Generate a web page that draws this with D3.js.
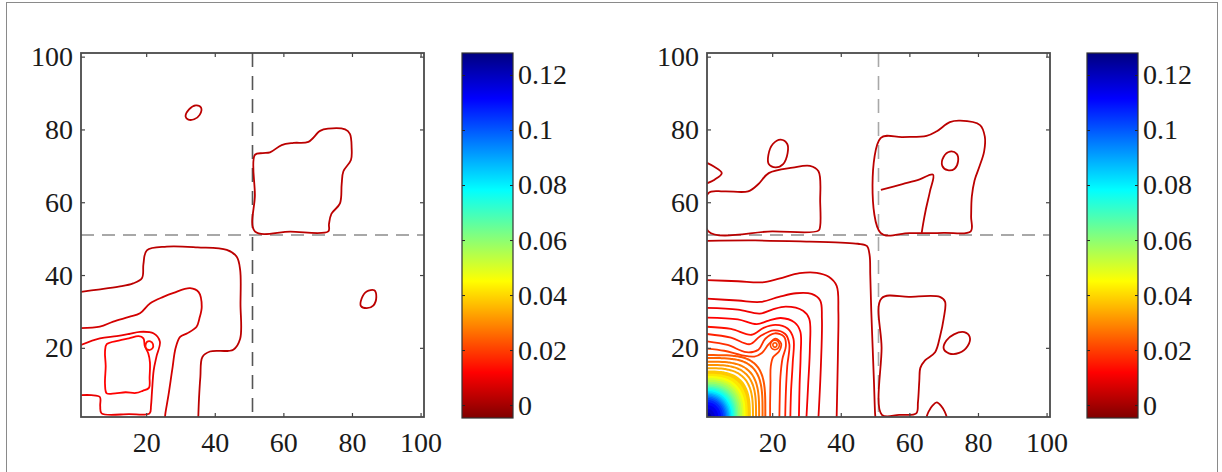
<!DOCTYPE html>
<html>
<head>
<meta charset="utf-8">
<script src="https://cdn.jsdelivr.net/npm/d3@7"></script>
<style>
body { margin: 0; background: #fff; }
svg { display: block; }
</style>
</head>
<body>
<svg id="chart" width="1222" height="472"></svg>
<script>
const xTicks = [20, 40, 60, 80, 100]
const yTicks = [20, 40, 60, 80, 100]
const axisRange = [1, 101]
const splitAt = 51
const cbTicks = [0, 0.02, 0.04, 0.06, 0.08, 0.1, 0.12]
const cbRange = [-0.0047, 0.128]

// left panel contour lines (grid units)
const leftContours = [
    { level: 0.003, closed: false, pts: [[1,35.4],[6,36],[12,36.8],[16.2,37.7],[18.8,39.2],[19.2,43],[20.2,46.8],[26,47.8],[35,47.6],[43.5,46.9],[46.4,45],[47.4,41.4],[47.5,32],[47.4,22.5],[45.4,19.5],[38.6,19],[36.4,17.5],[35.8,12],[35.4,6],[35.2,1]] },
    { level: 0.006, closed: false, pts: [[1,25.4],[6.5,25.8],[10.4,27.2],[15,28.5],[18.2,29.5],[21.1,32.2],[25,34],[28,35.1],[32.8,36.4],[35.3,35.3],[36.2,31.3],[35.5,28],[34.7,25.8],[32,24],[29.9,23],[28.6,20],[27.6,14],[26.5,7],[25.6,2],[25.5,1]] },
    { level: 0.009, closed: false, pts: [[1,20.8],[6.5,22.6],[11.4,23.2],[15,23.8],[18.2,24.4],[22.1,24],[24,21.7],[23,17.6],[22.2,13.9],[21.7,8],[21.4,4],[21,2],[15,1.8],[7,2],[6.6,4],[6.5,6.5],[4,7],[1,7]] },
    { level: 0.012, closed: true, pts: [[8.5,21],[12,22],[15,22.6],[17.8,23.2],[19.2,22.6],[19.6,20.5],[20.6,18.5],[21.1,16],[21,12],[20.8,9],[19,8.2],[17,7.6],[14,7.8],[11,7.5],[8.5,7.5],[8,10],[8.2,15],[8,19]] },
    { level: 0.014, closed: true, pts: [[19.8,20.6],[20.2,21.6],[21.2,21.8],[22,21],[21.8,19.8],[20.8,19.4],[20,19.8]] },
    { level: 0.003, closed: true, pts: [[51.7,52],[51.7,62],[51.7,73],[54,73.5],[56.1,73.7],[59.5,75.7],[63,76.3],[67.3,76.6],[70.7,79.6],[73,80.2],[78,80],[79.4,78.8],[79.9,75],[79.7,71.6],[77.5,68.5],[77,65],[76.5,59.7],[74,56.8],[73.3,54],[73.1,52],[62,51.9]] },
    { level: 0.003, closed: true, pts: [[31.5,83.5],[32.5,85.5],[34.5,86.6],[36,86],[35.6,84],[34,82.8],[32.3,82.7]] },
    { level: 0.003, closed: true, pts: [[82.6,31.5],[82.8,33.5],[84.3,35.5],[86.5,35.8],[87.1,34],[86.2,31.6],[84.3,30.9]] }
]

// right panel contour lines (grid units)
const rightContours = [
    { level: 0.003, closed: true, pts: [[1.4,52],[1.4,62.5],[6,63],[13,63],[16,65],[19,68],[26,69.5],[31,70],[33.5,68.5],[34,60],[34,53.5],[33.5,52.2],[20,52]] },
    { level: 0.003, closed: false, pts: [[1,70.8],[3,69.8],[5.3,68],[3.2,66.2],[1,65.2]] },
    { level: 0.003, closed: true, pts: [[19,70.5],[18.9,73],[20.2,76],[22.5,77.2],[24.4,76],[24.5,73.5],[23.2,70.5],[21,69.6]] },
    { level: 0.003, closed: false, pts: [[1,49.4],[15,49.5],[30,49.2],[40,48.9],[45,48.6],[47.6,48],[48.4,45.5],[48.6,40],[48.9,30],[49.3,20],[49.7,10],[50,2],[50.1,1]] },
    { level: 0.003, closed: true, pts: [[51.6,51.6],[51.6,77.6],[58,77.9],[65,78.2],[68,79.5],[71.8,82],[74.8,82.4],[80.6,81.2],[82,78],[81.8,74],[80.5,70],[79,66],[78.2,61.5],[78,56],[77.9,52],[70,51.6],[60,51.5]] },
    { level: 0.003, closed: false, pts: [[51.7,63.4],[58,65],[63,66.3],[66.9,67.6],[66,63],[64.8,58],[64,54],[63.6,51.6]] },
    { level: 0.003, closed: true, pts: [[69.6,70],[70,72.5],[71.8,73.9],[73.8,73.3],[74.2,71.2],[73.2,69.2],[71.2,68.8]] },
    { level: 0.003, closed: true, pts: [[52,1.6],[51.9,20],[51.9,33.6],[60,34],[68.9,34],[70.4,32.7],[70,28],[68.9,23],[67.5,18.8],[64.5,16.5],[63.2,14.5],[62.9,11],[62.5,5],[62,2],[57,1.6]] },
    { level: 0.003, closed: true, pts: [[70,19.8],[70.8,22],[73,23.7],[76,24.3],[77.6,23],[77,20.5],[74.5,18.6],[71.5,18.5]] },
    { level: 0.003, closed: false, pts: [[65,1],[65.6,2.5],[66.8,4.2],[68,5],[69.3,4],[70.3,2.5],[70.9,1]] },
    { level: 0.006, closed: false, pts: [[1,38.6],[10,38.3],[17,38],[22,39],[28,40.5],[33,40.6],[36.5,39.5],[38.8,37],[39.3,30],[39.2,20],[39,10],[38.8,1]] },
    { level: 0.008, closed: false, pts: [[1,33.5],[10,33],[16.5,32.6],[22,34],[27,35],[31.5,34.8],[34,33],[34.5,28],[34.2,15],[33.5,1]] },
    { level: 0.010, closed: false, pts: [[1,31],[10,30.5],[16.4,29.4],[20,30.5],[24,31.3],[29,30.2],[30.8,28],[31,20],[30.5,10],[30,1]] },
    { level: 0.012, closed: false, pts: [[1,28.3],[10,27.8],[15.5,26.5],[19,27.5],[22.5,28.2],[26.5,27],[28.2,24.5],[28.3,18],[28,10],[27.8,1]] },
    { level: 0.014, closed: false, pts: [[1,25.8],[8,25.2],[14,23.6],[17.5,25.5],[21,26.3],[24.5,25.3],[26.2,22.5],[26,16],[25.5,8],[25.3,1]] },
    { level: 0.016, closed: false, pts: [[1,23.8],[8,22.8],[13.5,21],[16.5,23.2],[20.5,24.8],[23.8,23.8],[25,21],[24.4,15],[24,8],[23.8,1]] },
    { level: 0.018, closed: false, pts: [[1,21.8],[7,20.8],[12.5,18.8],[16,19.5],[18,22.5],[20.8,24],[23.5,23],[24,20.5],[23,17],[22.4,12],[22.2,6],[22.1,1]] },
    { level: 0.020, closed: false, pts: [[1,19.8],[6,19.2],[11,18],[14.8,17.6],[17,18.6],[19,21],[21,22.5],[22.6,21.2],[22,19],[20.3,17.5],[19.6,15],[19.5,10],[19.4,5],[19.4,1]] }
]

// steep peak at the origin of the right panel: level, radius on the axes, radius on the diagonal
const cornerLevels = [0.124, 0.118, 0.114, 0.110, 0.106, 0.102, 0.098, 0.094, 0.090, 0.086, 0.082, 0.078, 0.074, 0.070, 0.066, 0.062, 0.058, 0.054, 0.050, 0.046, 0.042, 0.038, 0.034, 0.031, 0.028, 0.025, 0.023]
const cornerRadii = [1.0, 2.0, 3.0, 3.8, 4.5, 5.0, 5.5, 5.9, 6.3, 6.7, 7.0, 7.4, 7.8, 8.2, 8.6, 9.0, 9.5, 10.0, 10.5, 11.0, 11.6, 12.5, 13.4, 14.3, 15.2, 16.2, 17.0]
const cornerDiag = [1.0, 2.0, 3.0, 3.8, 4.5, 5.0, 5.5, 5.9, 6.3, 6.7, 7.1, 7.6, 8.0, 8.5, 9.0, 9.5, 10.1, 10.7, 11.3, 12.0, 12.9, 14.0, 15.2, 16.4, 17.6, 19.0, 20.2]
const fillFrom = 0.036 // levels at or above this look solid in the reference

// small local max near (20.8, 20.8)
const peakCenter = [20.8, 20.8]
const peakLevels = [0.021, 0.022]
const peakRadii = [1.3, 0.6]

const svg = d3.select("#chart")
const font = "'Liberation Serif', 'DejaVu Serif', serif"

svg.append("rect")
    .attr("x", 6.5).attr("y", 2.5)
    .attr("width", 1211).attr("height", 500)
    .attr("fill", "none").attr("stroke", "#8a8a8a")

const jet = v => {
    const c = t => Math.round(255 * Math.max(0, Math.min(1, t)))
    return `rgb(${c(1.5 - Math.abs(4 * v - 3))},${c(1.5 - Math.abs(4 * v - 2))},${c(1.5 - Math.abs(4 * v - 1))})`
}
// colormap is jet flipped: low = dark red, high = dark blue
const levelColor = val => jet(1 - (val - cbRange[0]) / (cbRange[1] - cbRange[0]))

const styleText = sel => sel.selectAll("text")
    .style("font-family", font)
    .style("font-size", "28px")
    .attr("fill", "#1a1a1a")

const drawPanel = (left, contours, vDashColor, withCorner) => {
    const top = 53, w = 343, h = 364
    const x = d3.scaleLinear().domain(axisRange).range([0, w])
    const y = d3.scaleLinear().domain(axisRange).range([h, 0])
    const g = svg.append("g").attr("transform", `translate(${left},${top})`)

    const clipId = "clip" + left
    g.append("clipPath").attr("id", clipId)
        .append("rect").attr("width", w).attr("height", h)
    const plot = g.append("g").attr("clip-path", `url(#${clipId})`)

    // dashed split lines
    plot.append("line")
        .attr("x1", 0).attr("x2", w)
        .attr("y1", y(splitAt)).attr("y2", y(splitAt))
        .attr("stroke", "#a8a8a8").attr("stroke-width", 2)
        .attr("stroke-dasharray", "13,8")
    plot.append("line")
        .attr("x1", x(splitAt)).attr("x2", x(splitAt))
        .attr("y1", 0).attr("y2", h)
        .attr("stroke", vDashColor).attr("stroke-width", 1.6)
        .attr("stroke-dasharray", "14,9")

    const open = d3.line().x(d => x(d[0])).y(d => y(d[1])).curve(d3.curveCatmullRom)
    const shut = d3.line().x(d => x(d[0])).y(d => y(d[1])).curve(d3.curveCatmullRomClosed)
    const poly = d3.line().x(d => x(d[0])).y(d => y(d[1]))

    if (withCorner) {
        // quarter rings hugging the corner (superellipse from axis / diagonal radius)
        const ring = i => {
            let r = cornerRadii[i]
            let p = 1 / (0.5 - Math.log2(cornerDiag[i] / r))
            return d3.range(0, 41).map(k => {
                let a = k / 40 * Math.PI / 2
                return [axisRange[0] + r * Math.pow(Math.cos(a), 2 / p), axisRange[0] + r * Math.pow(Math.sin(a), 2 / p)]
            })
        }
        // solid part, outer first
        cornerLevels.map((lv, i) => i).reverse()
            .filter(i => cornerLevels[i] >= fillFrom)
            .forEach(i => {
                plot.append("path")
                    .attr("d", poly([[axisRange[0], axisRange[0]], ...ring(i)]) + "Z")
                    .attr("fill", levelColor(cornerLevels[i]))
            })
        cornerLevels.forEach((lv, i) => {
            plot.append("path")
                .attr("d", open(ring(i)))
                .attr("fill", "none")
                .attr("stroke", levelColor(lv))
                .attr("stroke-width", 2)
        })
        peakLevels.forEach((lv, i) => {
            let pts = d3.range(0, 16).map(k => {
                let a = k / 16 * Math.PI * 2
                return [peakCenter[0] + peakRadii[i] * Math.cos(a), peakCenter[1] + peakRadii[i] * Math.sin(a)]
            })
            plot.append("path")
                .attr("d", shut(pts))
                .attr("fill", "none")
                .attr("stroke", levelColor(lv))
                .attr("stroke-width", 1.6)
        })
    }

    plot.selectAll(".contour")
        .data(contours)
        .enter().append("path")
        .attr("class", "contour")
        .attr("d", d => d.closed ? shut(d.pts) : open(d.pts))
        .attr("fill", "none")
        .attr("stroke", d => levelColor(d.level))
        .attr("stroke-width", 1.8)
        .attr("stroke-linejoin", "round")

    // axes, ticks inside on all four sides
    const bottom = g.append("g").attr("transform", `translate(0,${h})`)
        .call(d3.axisBottom(x).tickValues(xTicks).tickSizeInner(-4).tickSizeOuter(0).tickPadding(15))
    const leftAx = g.append("g")
        .call(d3.axisLeft(y).tickValues(yTicks).tickSizeInner(-4).tickSizeOuter(0).tickPadding(8))
    const topAx = g.append("g")
        .call(d3.axisTop(x).tickValues(xTicks).tickSizeInner(-4).tickSizeOuter(0).tickFormat(() => ""))
    const rightAx = g.append("g").attr("transform", `translate(${w},0)`)
        .call(d3.axisRight(y).tickValues(yTicks).tickSizeInner(-4).tickSizeOuter(0).tickFormat(() => ""))

    ;[bottom, leftAx, topAx, rightAx].forEach(a => {
        a.select(".domain").remove()
        a.selectAll("line").attr("stroke", "#444").attr("stroke-width", 1.2)
        styleText(a)
    })

    g.append("rect")
        .attr("width", w).attr("height", h)
        .attr("fill", "none")
        .attr("stroke", "#4a4a4a").attr("stroke-width", 1.8)
}

const drawColorbar = (left) => {
    const top = 53, w = 51, h = 365
    const c = d3.scaleLinear().domain(cbRange).range([h, 0])
    const g = svg.append("g").attr("transform", `translate(${left},${top})`)

    const gradId = "cb" + left
    const grad = svg.append("defs").append("linearGradient")
        .attr("id", gradId)
        .attr("x1", 0).attr("y1", 1).attr("x2", 0).attr("y2", 0)
    d3.range(0, 41).forEach(k => {
        grad.append("stop")
            .attr("offset", k / 40)
            .attr("stop-color", levelColor(cbRange[0] + k / 40 * (cbRange[1] - cbRange[0])))
    })

    g.append("rect")
        .attr("width", w).attr("height", h)
        .attr("fill", `url(#${gradId})`)

    const ax = g.append("g").attr("transform", `translate(${w},0)`)
        .call(d3.axisRight(c).tickValues(cbTicks).tickSizeInner(-3).tickSizeOuter(0).tickPadding(5).tickFormat(d => String(d)))
    const axL = g.append("g")
        .call(d3.axisLeft(c).tickValues(cbTicks).tickSizeInner(-3).tickSizeOuter(0).tickFormat(() => ""))
    ;[ax, axL].forEach(a => {
        a.select(".domain").remove()
        a.selectAll("line").attr("stroke", "#222")
        styleText(a)
    })

    g.append("rect")
        .attr("width", w).attr("height", h)
        .attr("fill", "none")
        .attr("stroke", "#333").attr("stroke-width", 1.2)
}

drawPanel(81, leftContours, "#555", false)
drawColorbar(462)
drawPanel(707, rightContours, "#a8a8a8", true)
drawColorbar(1087)
</script>
</body>
</html>
